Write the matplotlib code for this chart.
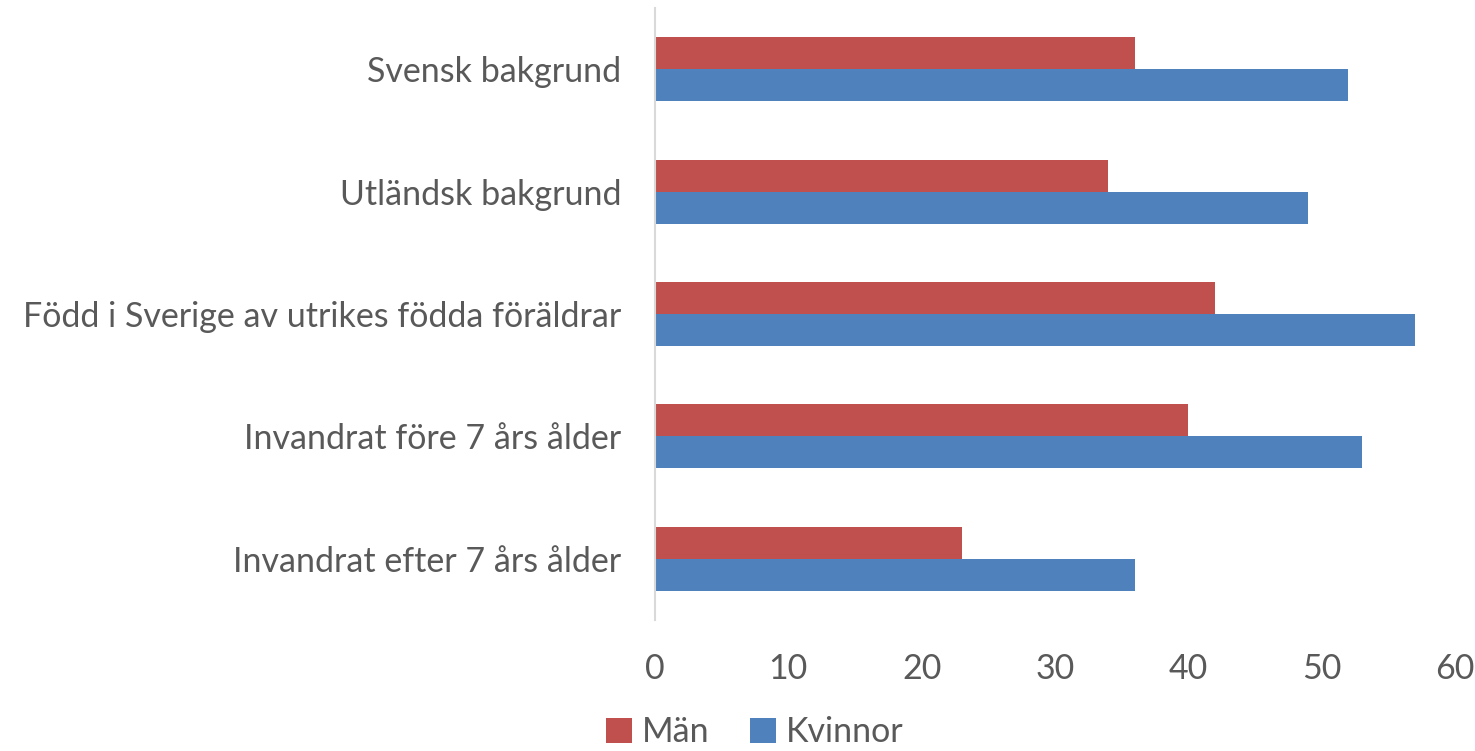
import numpy as np
import matplotlib.pyplot as plt

categories = ['Svensk bakgrund', 'Utländsk bakgrund',
              'Född i Sverige av utrikes födda föräldrar',
              'Invandrat före 7 års ålder', 'Invandrat efter 7 års ålder']
man = [36, 34, 42, 40, 23]
kvinnor = [52, 49, 57, 53, 36]
xticks = [0, 10, 20, 30, 40, 50, 60]

plt.rcParams['font.family'] = ['Lato', 'DejaVu Sans']
text_col = '#595959'

fig = plt.figure(figsize=(14.75, 7.51), dpi=100)
ax = fig.add_axes([0.444, 0.1744, 0.5424, 0.8149])

y = np.arange(len(categories))
h = 0.262
ax.barh(y - h / 2, man, height=h, color='#C0504D', label='Män')
ax.barh(y + h / 2, kvinnor, height=h, color='#4F81BD', label='Kvinnor')

ax.set_ylim(4.5, -0.5)
ax.set_xlim(0, 60)
ax.set_yticks(y)
ax.set_yticklabels(categories)
ax.set_xticks(xticks)
ax.tick_params(axis='both', length=0, labelsize=24.5, colors=text_col)
ax.tick_params(axis='y', pad=24)
ax.tick_params(axis='x', pad=24)

for s in ['top', 'right', 'bottom']:
    ax.spines[s].set_visible(False)
ax.spines['left'].set_color('#D9D9D9')
ax.spines['left'].set_linewidth(1.5)

fig.legend(loc='center', bbox_to_anchor=(755 / 1475, 0.025), ncol=2, frameon=False,
           fontsize=24.5, labelcolor=text_col, handlelength=0.75, handleheight=0.75,
           handletextpad=0.3, columnspacing=1.2, borderpad=0.1)

fig.savefig('out.png', dpi=100)
